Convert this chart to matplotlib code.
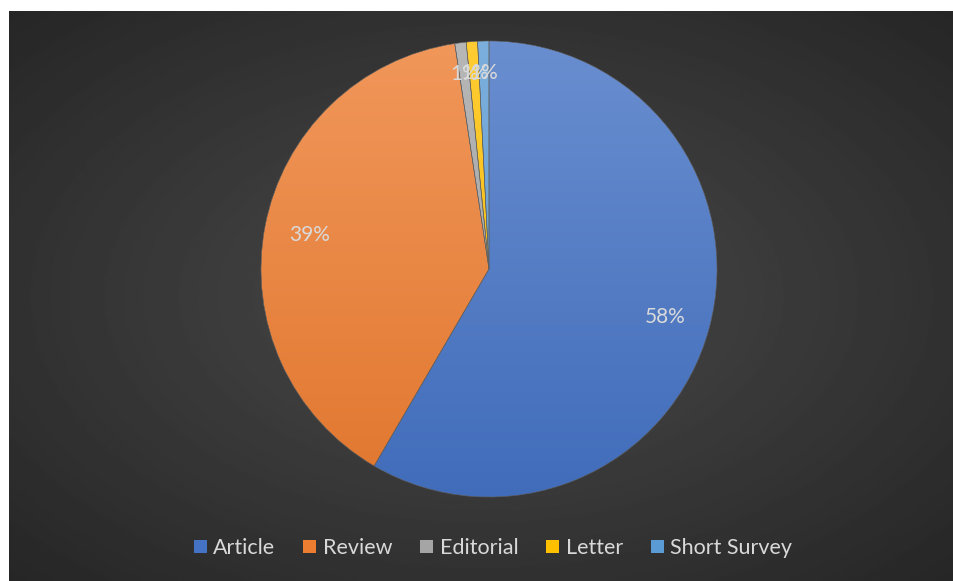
import numpy as np
import matplotlib.pyplot as plt
from matplotlib.patches import Patch
from matplotlib.colors import to_rgb

categories = ["Article", "Review", "Editorial", "Letter", "Short Survey"]
shares = [58.4, 39.2, 0.8, 0.8, 0.8]
labels = ["58%", "39%", "1%", "1%", "1%"]
colors = ["#4472C4", "#ED7D31", "#A5A5A5", "#FFC000", "#5B9BD5"]

W, H = 954, 581
fig = plt.figure(figsize=(W / 100, H / 100), dpi=100)
fig.patch.set_facecolor("white")

# dark background with radial gradient
bg = fig.add_axes([9 / W, 0, (W - 9) / W, (H - 11) / H])
bg.set_axis_off()
yy, xx = np.mgrid[-1:1:300j, -1:1:500j]
rr = np.sqrt(xx ** 2 + yy ** 2) / np.sqrt(2)
shade = 0.29 - 0.14 * rr
bg.imshow(shade, cmap="gray", vmin=0, vmax=1, extent=[0, 1, 0, 1], aspect="auto")

# pie, center (489, 269) radius 228 px
cx, cy, r = 489, H - 269, 228
ax = fig.add_axes([(cx - r) / W, (cy - r) / H, 2 * r / W, 2 * r / H])
ax.set_axis_off()
ax.patch.set_alpha(0)

wedges, texts = ax.pie(shares, colors=colors, startangle=90, counterclock=False,
                       radius=1, wedgeprops=dict(linewidth=0.4, edgecolor="#606060"))

# vertical gradient fill clipped to each wedge
g = np.linspace(0, 1, 256)[:, None]
for w, c in zip(wedges, colors):
    base = np.array(to_rgb(c))
    top = base + (1 - base) * 0.2
    bot = base * 0.95
    img = top[None, None, :] * (1 - g[:, :, None]) + bot[None, None, :] * g[:, :, None]
    img = np.repeat(img, 2, axis=1)
    im = ax.imshow(img, extent=[-1, 1, -1, 1], aspect="auto", zorder=w.get_zorder() - 0.1)
    im.set_clip_path(w)
    w.set_facecolor("none")

ax.set_xlim(-1, 1)
ax.set_ylim(-1, 1)

# data labels
ang = 90.0
for s, lab in zip(shares, labels):
    span = s / 100 * 360
    mid = np.deg2rad(ang - span / 2)
    ang -= span
    d = 0.8 if s > 5 else 0.86
    ax.text(d * np.cos(mid), d * np.sin(mid), lab, ha="center", va="center",
            fontsize=15, color="#D9D9D9", family="Lato")

handles = [Patch(facecolor=c, edgecolor="none") for c in colors]
leg = fig.legend(handles, categories, loc="center", ncol=5, frameon=False,
                 bbox_to_anchor=(493 / W, 33 / H),
                 handlelength=0.6, handleheight=0.6, handletextpad=0.3,
                 columnspacing=1.3, prop=dict(family="Lato", size=15.5))
for t in leg.get_texts():
    t.set_color("#D9D9D9")

fig.savefig("out.png", dpi=100)
